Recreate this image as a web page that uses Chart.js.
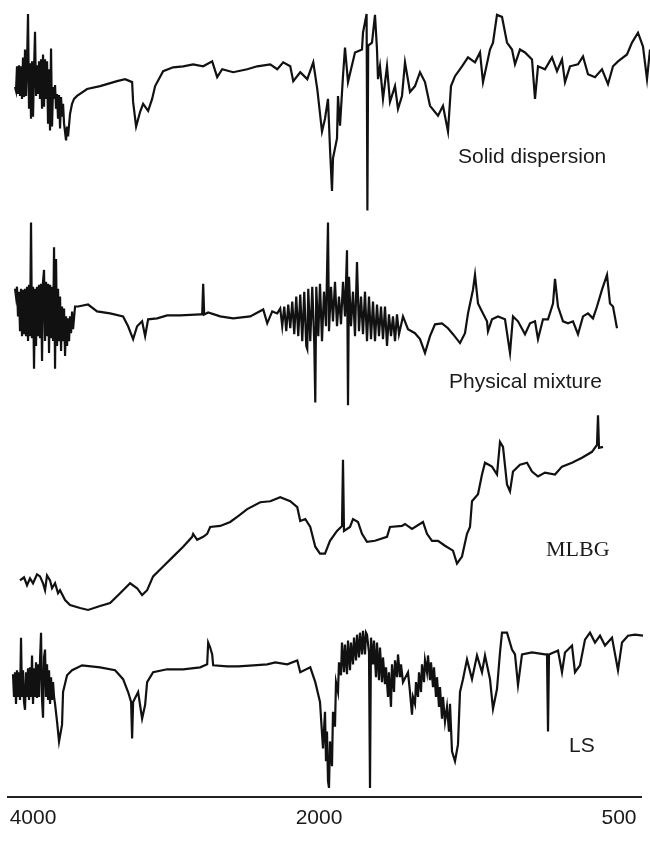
<!DOCTYPE html>
<html>
<head>
<meta charset="utf-8">
<script src="https://cdn.jsdelivr.net/npm/chart.js@4.4.1/dist/chart.umd.min.js"></script>
<style>
  html, body { margin: 0; padding: 0; background: #ffffff; }
  #wrap { width: 650px; height: 844px; }
</style>
</head>
<body>
<div id="wrap"><canvas id="ftir" width="650" height="844"></canvas></div>
<script>
// FTIR spectra, stacked: [wavenumber (cm-1), relative transmittance (a.u., offset per trace)]
const solidDispersion = [
  [4126,718],[4119,714],[4112,739],[4105,711],[4098,740],[4091,709],[4084,739],[4077,706],[4070,748],
  [4063,708],[4056,756],[4049,709],[4042,740],[4035,792],[4028,696],[4021,742],[4014,686],[4007,744],
  [4000,688],[3993,736],[3986,774],[3979,709],[3972,740],[3965,711],[3958,744],[3951,706],[3944,746],
  [3937,696],[3930,751],[3923,698],[3916,746],[3909,706],[3902,744],[3895,681],[3888,736],[3881,674],
  [3874,757],[3867,678],[3860,718],[3853,706],[3846,720],[3839,696],[3832,711],[3825,686],[3818,710],
  [3811,676],[3804,708],[3797,688],[3790,701],[3783,681],[3769,664],[3762,678],[3755,668],[3741,691],
  [3727,701],[3713,706],[3692,709],[3622,716],[3531,719],[3412,724],[3356,726],[3307,723],
  [3300,703],[3279,678],[3251,693],[3230,701],[3195,694],[3167,706],[3146,719],[3090,734],[3020,738],
  [2950,739],[2880,741],[2810,739],[2747,744],[2712,728],[2677,736],[2600,733],[2502,736],[2432,739],
  [2341,741],[2292,736],[2250,743],[2201,739],[2180,724],[2131,733],[2082,726],[2040,743],[2012,716],
  [1985,673],[1970,686],[1955,706],[1945,656],[1935,613],[1930,646],[1910,666],[1905,709],[1895,679],
  [1880,729],[1870,758],[1855,723],[1820,753],[1785,756],[1780,773],[1762,792],[1758,593],[1754,760],
  [1735,763],[1720,791],[1710,756],[1705,726],[1695,739],[1680,706],[1660,739],[1645,703],[1620,719],
  [1605,696],[1585,709],[1570,743],[1545,713],[1520,719],[1495,733],[1470,723],[1445,699],[1405,689],
  [1380,699],[1355,673],[1340,719],[1320,729],[1285,739],[1255,748],[1220,743],[1195,753],[1180,723],
  [1145,756],[1130,763],[1110,791],[1085,789],[1060,763],[1035,756],[1020,741],[995,756],[970,753],
  [935,746],[920,706],[905,739],[870,736],[835,748],[810,734],[785,746],[770,723],[745,739],[705,741],
  [680,749],[655,731],[620,728],[585,736],[555,721],[530,739],[505,744],[460,751],[435,763],[405,773],
  [380,759],[360,726],[345,756]
];

const physicalMixture = [
  [4126,514],[4119,506],[4112,516],[4105,486],[4098,511],[4091,471],[4084,514],[4077,466],[4070,513],
  [4063,468],[4056,514],[4049,466],[4042,516],[4035,461],[4028,518],[4021,466],[4014,581],[4007,464],
  [4000,516],[3993,433],[3986,514],[3979,456],[3972,516],[3965,466],[3958,518],[3951,464],[3944,519],
  [3937,441],[3930,521],[3923,533],[3916,461],[3909,521],[3902,466],[3895,519],[3888,449],[3881,518],
  [3874,464],[3867,516],[3860,461],[3853,556],[3846,433],[3839,544],[3832,456],[3825,514],[3818,461],
  [3811,506],[3804,451],[3797,496],[3790,461],[3783,494],[3776,446],[3769,486],[3762,456],[3755,484],
  [3748,461],[3741,486],[3734,469],[3727,491],[3720,473],[3706,496],[3685,496],[3615,498],[3552,491],
  [3461,489],[3370,486],[3335,476],[3300,463],[3272,476],[3237,481],[3216,466],[3195,483],[3132,484],
  [3062,487],[2971,487],[2831,488],[2817,488],[2810,519],[2803,488],[2775,490],[2691,486],[2600,484],
  [2481,486],[2390,493],[2362,479],[2327,491],[2292,489],
  [2271,494],[2257,476],[2243,496],[2229,471],[2215,498],[2201,474],[2187,501],[2173,468],[2159,506],
  [2145,466],[2131,508],[2117,461],[2103,511],[2089,456],[2082,453],[2075,514],[2061,461],[2047,516],
  [2033,458],[2026,399],[2019,516],[2005,466],[1995,519],[1985,461],[1975,511],[1965,476],[1955,581],
  [1950,471],[1940,516],[1930,481],[1920,521],[1910,476],[1900,506],[1890,478],[1880,521],[1870,486],
  [1860,553],[1855,396],[1850,526],[1840,476],[1830,511],[1820,466],[1810,541],[1800,471],[1790,506],
  [1780,468],[1770,511],[1760,461],[1750,506],[1740,463],[1730,501],[1720,461],[1710,498],[1700,466],
  [1690,496],[1680,463],[1670,496],[1660,456],[1650,488],[1640,466],[1630,486],[1620,461],[1610,488],
  [1600,468],[1580,486],[1555,473],[1520,469],[1495,463],
  [1470,449],[1445,466],[1420,478],[1385,479],[1355,474],[1330,468],[1295,459],[1270,469],[1255,489],
  [1230,513],[1220,528],[1205,499],[1180,489],[1160,481],[1155,471],[1135,483],[1105,486],[1070,483],
  [1045,449],[1030,486],[1005,481],[970,468],[945,479],[920,481],[905,463],[880,483],[855,483],
  [830,499],[820,524],[805,496],[780,481],[755,479],[730,481],[705,468],[680,486],[655,489],[630,484],
  [610,496],[585,513],[560,528],[545,499],[530,496],[510,474]
];

const mlbg = [
  [4091,219],[4063,222],[4042,214],[4021,221],[4000,216],[3972,225],[3951,223],[3930,216],[3916,209],
  [3902,224],[3881,219],[3867,211],[3846,216],[3825,206],[3811,209],[3776,199],[3741,194],[3671,191],
  [3615,189],[3531,193],[3461,196],[3391,206],[3321,216],[3272,211],[3237,204],[3202,209],[3160,223],
  [3090,233],[3020,243],[2950,253],[2887,263],[2880,266],[2852,260],[2810,263],[2782,266],[2761,273],
  [2691,274],[2621,278],[2565,284],[2502,291],[2411,298],[2341,299],[2271,303],[2201,299],[2152,293],
  [2131,279],[2096,281],[2061,273],[2026,253],[1995,246],[1970,246],[1945,259],[1910,269],[1885,274],
  [1880,341],[1875,269],[1845,273],[1830,281],[1805,278],[1785,266],[1760,258],[1720,259],[1660,263],
  [1645,273],[1585,274],[1570,276],[1535,271],[1480,278],[1460,266],[1435,259],[1405,259],[1370,254],
  [1330,249],[1310,236],[1285,243],[1260,266],[1245,273],[1235,299],[1205,306],[1185,326],[1170,338],
  [1135,334],[1110,326],[1095,359],[1080,354],[1060,316],[1045,309],[1030,329],[995,336],[960,338],
  [935,329],[905,324],[870,328],[820,326],[785,334],[735,338],[685,343],[635,349],[610,356],[605,386],
  [600,353],[580,354]
];

const ls = [
  [4140,124],[4133,101],[4126,126],[4119,94],[4112,128],[4105,101],[4098,126],[4091,98],[4084,161],
  [4077,101],[4070,128],[4063,96],[4056,88],[4049,126],[4042,101],[4035,130],[4028,98],[4021,131],
  [4014,101],[4007,143],[4000,94],[3993,130],[3986,101],[3979,136],[3972,100],[3965,134],[3958,101],
  [3951,138],[3944,166],[3937,98],[3930,80],[3923,141],[3916,149],[3909,101],[3902,134],[3895,98],
  [3888,128],[3881,94],[3874,121],[3867,98],[3860,116],[3853,101],[3846,94],[3832,76],[3818,56],
  [3797,73],[3790,106],[3762,123],[3727,128],[3657,133],[3531,131],[3426,128],[3370,119],[3335,106],
  [3314,96],[3307,59],[3300,96],[3265,106],[3237,79],[3216,93],[3202,116],[3160,126],[3062,129],
  [2950,129],[2831,131],[2782,134],[2775,156],[2761,151],[2747,144],[2740,133],[2642,132],[2565,132],
  [2460,133],[2362,134],[2306,136],[2222,134],[2152,138],[2131,126],[2061,131],[2026,116],[1995,96],
  [1980,49],[1970,86],[1965,36],[1960,66],[1955,16],[1950,9],[1945,56],[1935,31],[1930,86],[1920,71],
  [1915,116],[1905,106],[1900,136],[1890,123],[1885,156],[1875,126],[1870,154],[1860,124],[1855,158],
  [1845,128],[1840,156],[1830,134],[1825,161],[1815,138],[1810,164],[1800,141],[1795,166],[1785,144],
  [1780,168],[1770,144],[1765,166],[1760,164],[1750,146],[1745,9],[1740,161],[1730,134],[1725,158],
  [1715,121],[1710,156],[1700,118],[1695,151],[1685,116],[1680,141],[1670,114],[1665,131],[1655,101],
  [1650,126],[1640,91],[1635,134],[1625,106],[1620,138],[1610,121],[1605,144],[1595,121],[1590,134],
  [1580,116],[1555,126],[1545,106],[1535,83],[1530,101],[1520,94],[1515,116],[1505,101],[1500,126],
  [1490,106],[1485,134],[1475,116],[1470,138],[1460,126],[1455,143],[1445,118],[1440,136],[1430,111],
  [1425,131],[1415,101],[1410,121],[1400,91],[1395,111],[1385,79],[1380,101],[1370,76],[1360,91],
  [1350,66],[1345,94],[1335,46],[1320,36],[1305,53],[1295,106],[1280,119],[1260,139],[1235,119],
  [1210,143],[1185,126],[1170,143],[1145,119],[1130,89],[1110,109],[1095,146],[1085,166],[1060,166],
  [1035,149],[1020,144],[1005,113],[985,144],[935,146],[870,144],[860,144],[855,66],[850,144],[805,148],
  [785,126],[770,146],[735,153],[720,126],[695,133],[670,159],[645,166],[620,156],[595,163],[570,153],
  [535,161],[505,128],[485,156],[455,163],[420,164],[380,163]
];

const tickWavenumbers = [4000, 2000, 500];

// Trace names and where each name sits: [wavenumber, signal] of its left/baseline point
const traceNames = ['Solid dispersion', 'Physical mixture', 'MLBG', 'LS'];
const namePositions = [[1305, 641], [1350, 414], [865, 244], [750, 45]];

// Wavenumber axis: the range below 2000 cm-1 is drawn expanded
const WN_LEFT = 4175, WN_BREAK = 2000, WN_RIGHT = 390;
const BREAK_FRACTION = 0.4913;

function wnToFraction(v) {
  if (v >= WN_BREAK) return (WN_LEFT - v) / (WN_LEFT - WN_BREAK) * BREAK_FRACTION;
  return BREAK_FRACTION + (WN_BREAK - v) / (WN_BREAK - WN_RIGHT) * (1 - BREAK_FRACTION);
}
function fractionToWn(f) {
  if (f <= BREAK_FRACTION) return WN_LEFT - f / BREAK_FRACTION * (WN_LEFT - WN_BREAK);
  return WN_BREAK - (f - BREAK_FRACTION) / (1 - BREAK_FRACTION) * (WN_BREAK - WN_RIGHT);
}

class WavenumberScale extends Chart.LinearScale {
  getPixelForValue(value) {
    return this.getPixelForDecimal(wnToFraction(value));
  }
  getValueForPixel(pixel) {
    return fractionToWn(this.getDecimalForPixel(pixel));
  }
}
WavenumberScale.id = 'wavenumber';
WavenumberScale.defaults = Chart.LinearScale.defaults;
Chart.register(WavenumberScale);

function toPoints(pairs) {
  return pairs.map(p => ({ x: p[0], y: p[1] }));
}

const traces = [solidDispersion, physicalMixture, mlbg, ls];

const traceNamePlugin = {
  id: 'traceNames',
  afterDatasetsDraw(chart) {
    const ctx = chart.ctx;
    const xs = chart.scales.x, ys = chart.scales.y;
    ctx.save();
    ctx.fillStyle = '#1a1a1a';
    ctx.textBaseline = 'alphabetic';
    ctx.textAlign = 'left';
    traceNames.forEach((name, i) => {
      ctx.font = name === 'MLBG'
        ? '22px "Liberation Serif", "Times New Roman", serif'
        : '21px "Liberation Sans", Arial, sans-serif';
      const pos = namePositions[i];
      ctx.fillText(name, xs.getPixelForValue(pos[0]), ys.getPixelForValue(pos[1]));
    });
    ctx.restore();
  }
};

new Chart(document.getElementById('ftir'), {
  type: 'line',
  data: {
    datasets: traces.map((t, i) => ({
      label: traceNames[i],
      data: toPoints(t),
      borderColor: '#111111',
      borderWidth: 2.2,
      pointRadius: 0,
      tension: 0,
      fill: false,
      clip: false
    }))
  },
  options: {
    responsive: false,
    animation: false,
    events: [],
    layout: { padding: { left: 8, right: 9, top: 6, bottom: 4 } },
    plugins: { legend: { display: false }, tooltip: { enabled: false } },
    scales: {
      x: {
        type: 'wavenumber',
        min: WN_RIGHT,
        max: WN_LEFT,
        grid: { display: false, drawTicks: false },
        border: { display: true, color: '#222222', width: 2 },
        afterBuildTicks(scale) {
          scale.ticks = tickWavenumbers.map(v => ({ value: v }));
        },
        ticks: {
          autoSkip: false,
          maxRotation: 0,
          padding: 9,
          color: '#1a1a1a',
          font: { family: '"Liberation Sans", Arial, sans-serif', size: 21 },
          callback: v => String(v)
        }
      },
      y: {
        type: 'linear',
        display: false,
        min: 0,
        max: 800
      }
    }
  },
  plugins: [traceNamePlugin]
});
</script>
</body>
</html>
